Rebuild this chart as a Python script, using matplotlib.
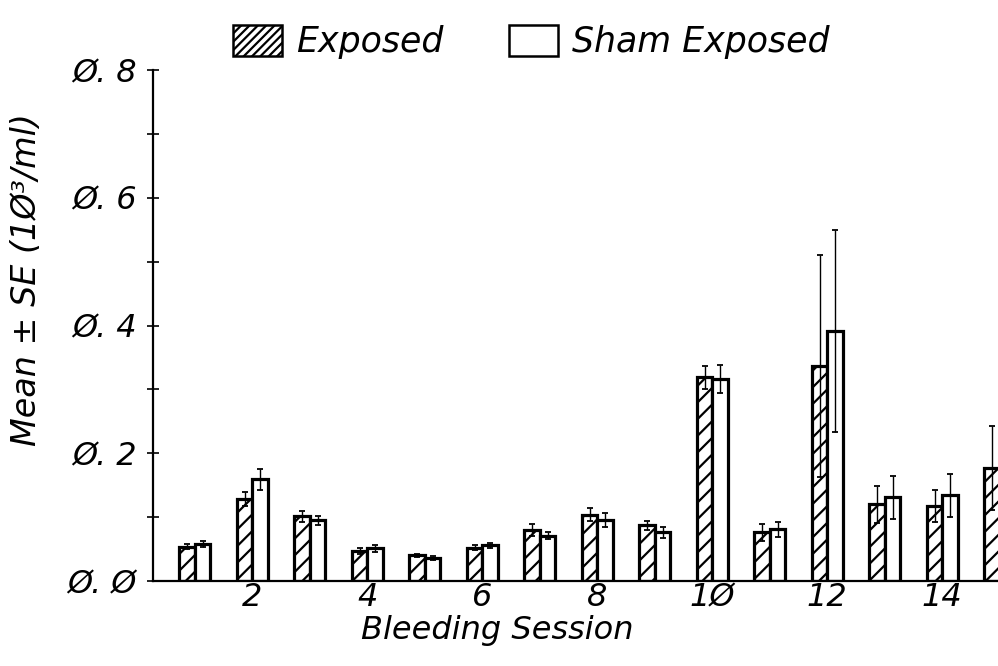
import matplotlib
matplotlib.use("Agg")
import matplotlib.pyplot as plt
from matplotlib.patches import Patch
from matplotlib.ticker import MultipleLocator, FixedLocator
import numpy as np

sessions = list(range(1, 16))
exposed_mean = [0.054, 0.128, 0.101, 0.047, 0.040, 0.052, 0.080, 0.104, 0.087, 0.319,
                0.076, 0.337, 0.120, 0.117, 0.177]
exposed_se = [0.004, 0.011, 0.008, 0.005, 0.003, 0.004, 0.010, 0.010, 0.007, 0.018,
              0.013, 0.174, 0.029, 0.025, 0.066]
sham_mean = [0.058, 0.159, 0.095, 0.051, 0.036, 0.056, 0.071, 0.096, 0.076, 0.316,
             0.081, 0.391, 0.131, 0.134, 0.160]
sham_se = [0.004, 0.016, 0.007, 0.006, 0.003, 0.004, 0.006, 0.011, 0.008, 0.022,
           0.012, 0.158, 0.034, 0.034, 0.050]
xtick_vals = [2, 4, 6, 8, 10, 12, 14]
xtick_labels = ["2", "4", "6", "8", "1Ø", "12", "14"]
ytick_vals = [0.0, 0.2, 0.4, 0.6, 0.8]
ytick_labels = ["Ø. Ø", "Ø. 2", "Ø. 4", "Ø. 6", "Ø. 8"]

plt.rcParams['hatch.linewidth'] = 1.6
plt.rcParams['font.family'] = ['DejaVu Sans']

fig = plt.figure(figsize=(9.98, 6.66), dpi=100)
ax = fig.add_axes([153/998, 85/666, 933/998, 511/666])

x = np.array(sessions, dtype=float)
w = 0.27
ax.bar(x - w/2, exposed_mean, width=w, facecolor='white', edgecolor='black',
       linewidth=2.3, hatch='//', zorder=2)
ax.bar(x + w/2, sham_mean, width=w, facecolor='white', edgecolor='black',
       linewidth=2.3, zorder=2)
ax.errorbar(x - w/2, exposed_mean, yerr=exposed_se, fmt='none', ecolor='black',
            elinewidth=1.0, capsize=2.5, capthick=1.3, zorder=3)
ax.errorbar(x + w/2, sham_mean, yerr=sham_se, fmt='none', ecolor='black',
            elinewidth=1.0, capsize=2.5, capthick=1.3, zorder=3)

ax.set_xlim(0.27, 16.5)
ax.set_ylim(0, 0.8)
ax.spines['top'].set_visible(False)
ax.spines['right'].set_visible(False)
ax.spines['left'].set_linewidth(1.6)
ax.spines['bottom'].set_linewidth(1.6)

tfont = dict(family='DejaVu Sans', style='oblique', size=23)
ax.set_xticks(xtick_vals)
ax.set_xticklabels(xtick_labels, fontdict=tfont)
ax.yaxis.set_major_locator(FixedLocator(ytick_vals))
ax.set_yticklabels(ytick_labels, fontdict=tfont)
ax.yaxis.set_minor_locator(MultipleLocator(0.1))
ax.tick_params(axis='x', length=0, pad=1)
ax.tick_params(axis='y', which='both', direction='inout', length=8, width=1.2, pad=8)

ax.set_xlabel("Bleeding Session", fontdict=tfont)
ax.xaxis.set_label_coords((497 - 153) / 933, -34 / 511)
fig.text(27/998, 1 - 280/666, "Mean ± SE (1Ø³/ml)", rotation=90, ha='center', va='center',
         family='DejaVu Sans', style='oblique', size=24)

handles = [Patch(facecolor='white', edgecolor='black', hatch='////', linewidth=1.8),
           Patch(facecolor='white', edgecolor='black', linewidth=1.8)]
fig.legend(handles, ["Exposed", "Sham Exposed"], ncol=2, loc='upper left',
           bbox_to_anchor=(202/998, 1.01), frameon=False,
           prop=dict(family='DejaVu Sans', style='oblique', size=25),
           handlelength=1.4, handleheight=1.0, handletextpad=0.4, columnspacing=1.9)

fig.savefig("out.png", dpi=100)
